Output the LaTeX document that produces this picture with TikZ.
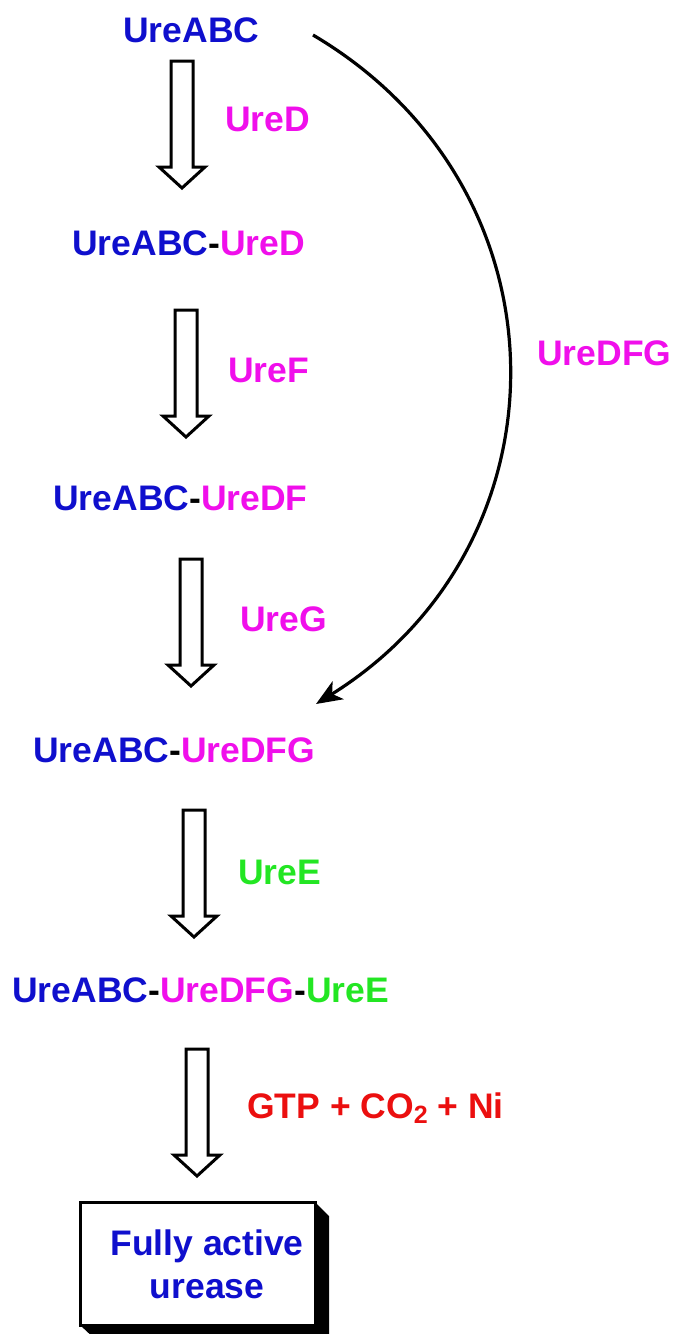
\documentclass[tikz,border=0pt]{standalone}
\usepackage{fontspec}
\setmainfont{Liberation Sans}
\usetikzlibrary{arrows.meta}
\definecolor{ublue}{RGB}{15,15,205}
\definecolor{umag}{RGB}{240,15,235}
\definecolor{ugreen}{RGB}{35,230,35}
\definecolor{ured}{RGB}{235,15,15}
\tikzset{
  txt/.style={inner sep=0pt, anchor=base west, font=\fontsize{35.5}{40}\selectfont\bfseries},
  blockarr/.pic={
    \draw[line width=3pt, fill=white, line join=miter]
      (-11,0) -- (11,0) -- (11,106) -- (23,106) -- (0,127) -- (-23,106) -- (-11,106) -- cycle;
  },
  curvearrow/.style={line width=3.2pt, -{Stealth[length=26pt,width=21pt,inset=7pt]}}
}
\begin{document}
\begin{tikzpicture}[x=1pt,y=-1pt]
\useasboundingbox (0,0) rectangle (676,1334);
% text nodes
\node[txt, text=ublue] (n1) at (123,42) {UreABC};
\node[txt, text=umag] (l1) at (225,131) {UreD};
\node[txt] (n2) at (72,255) {\textcolor{ublue}{UreABC}-\textcolor{umag}{UreD}};
\node[txt, text=umag] (l2) at (228,382) {UreF};
\node[txt] (n3) at (53,510) {\textcolor{ublue}{UreABC}-\textcolor{umag}{UreDF}};
\node[txt, text=umag] (l3) at (240,631) {UreG};
\node[txt] (n4) at (33,762) {\textcolor{ublue}{UreABC}-\textcolor{umag}{UreDFG}};
\node[txt, text=ugreen] (l4) at (238,884) {UreE};
\node[txt] (n5) at (12,1002) {\textcolor{ublue}{UreABC}-\textcolor{umag}{UreDFG}-\textcolor{ugreen}{UreE}};
\node[txt, text=ured] (l5) at (247,1118) {GTP + CO\raisebox{-0.28ex}{\fontsize{25}{25}\selectfont 2} + Ni};
\node[txt, text=umag] (l6) at (537,365) {UreDFG};
% block arrows
\pic at (182,61) {blockarr};
\pic at (186,310) {blockarr};
\pic at (191,559) {blockarr};
\pic at (194,810) {blockarr};
\pic at (197,1049) {blockarr};
% final box with shadow
\fill[black] (315,1202) -- (329,1216) -- (329,1340) -- (96,1340) -- (80,1325) -- (315,1325) -- cycle;
\draw[line width=3pt, fill=white] (80,1202) rectangle (315,1325);
\node[txt, anchor=base, text=ublue] (b1) at (207,1255) {Fully active};
\node[txt, anchor=base, text=ublue] (b2) at (207,1298) {urease};
% curved arrow
\coordinate (cs) at (313,35);
\coordinate (ce) at (316,704);
\draw[curvearrow] (cs) .. controls (574,189) and (573,544) .. (ce);
\end{tikzpicture}
\end{document}
